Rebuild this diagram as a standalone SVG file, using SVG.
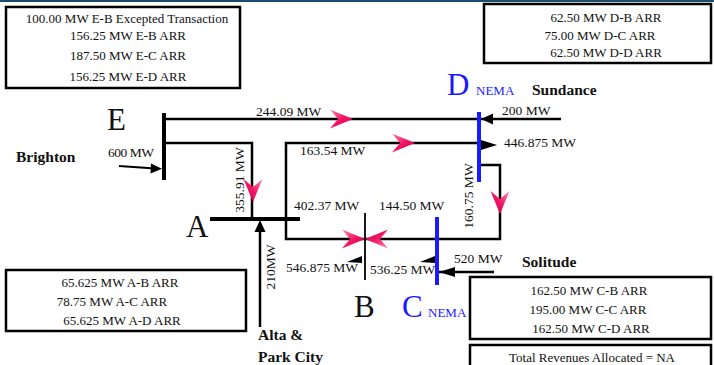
<svg xmlns="http://www.w3.org/2000/svg" width="714" height="365" viewBox="0 0 714 365">
<style>
.t{font-family:"Liberation Serif","Times New Roman",serif;font-size:13.5px;fill:#111}
.bx{font-family:"Liberation Serif","Times New Roman",serif;font-size:13px;fill:#111;text-anchor:middle}
.big{font-family:"Liberation Serif","Times New Roman",serif;font-size:31px;fill:#111}
.bl{fill:#1a1aff}
.nema{font-family:"Liberation Serif","Times New Roman",serif;font-size:13px;fill:#1a1aff}
.bold{font-family:"Liberation Serif","Times New Roman",serif;font-size:15.5px;font-weight:bold;fill:#111}
.box{fill:#fff;stroke:#000;stroke-width:2.5}
.ln{fill:none;stroke:#000;stroke-width:2.5}
.bus{stroke:#000;stroke-width:4}
.bbus{stroke:#1a1aff;stroke-width:4}
</style>
<defs>
<linearGradient id="pg" x1="0" y1="0" x2="1" y2="1">
<stop offset="0" stop-color="#ff8ab4"/>
<stop offset="0.5" stop-color="#f21666"/>
<stop offset="1" stop-color="#c80046"/>
</linearGradient>
<path id="pa" d="M0,0 L-23,-9.5 L-15,0 L-23,9.5 Z" fill="url(#pg)"/>
</defs>
<rect x="0" y="0" width="714" height="2" fill="#1f4a68"/>

<g id="box-E">
<rect class="box" x="6" y="7" width="234" height="81"/>
<text class="bx" x="127" y="23">100.00 MW E-B Excepted Transaction</text>
<text class="bx" x="128" y="40">156.25 MW E-B ARR</text>
<text class="bx" x="128" y="60">187.50 MW E-C ARR</text>
<text class="bx" x="128" y="81">156.25 MW E-D ARR</text>
</g>
<g id="box-D">
<rect class="box" x="484" y="4" width="227" height="59"/>
<text class="bx" x="606" y="22">62.50 MW D-B ARR</text>
<text class="bx" x="600" y="40">75.00 MW D-C ARR</text>
<text class="bx" x="606" y="57">62.50 MW D-D ARR</text>
</g>
<g id="box-A">
<rect class="box" x="6" y="270" width="240" height="61"/>
<text class="bx" x="120" y="287">65.625 MW A-B ARR</text>
<text class="bx" x="112" y="306">78.75 MW A-C ARR</text>
<text class="bx" x="122" y="325">65.625 MW A-D ARR</text>
</g>
<g id="box-C">
<rect class="box" x="470" y="277" width="241" height="62"/>
<text class="bx" x="589" y="295">162.50 MW C-B ARR</text>
<text class="bx" x="588" y="314">195.00 MW C-C ARR</text>
<text class="bx" x="591" y="333">162.50 MW C-D ARR</text>
</g>
<g id="box-total">
<rect class="box" x="470" y="345" width="241" height="30"/>
<text class="bx" x="592" y="362">Total Revenues Allocated = NA</text>
</g>

<g id="connectors">
<path class="ln" d="M164,119 H561"/>
<path class="ln" d="M164,143 H252 V219"/>
<path class="ln" d="M286,219 V143 H479"/>
<path class="ln" d="M286,219 V239 H500 V165 H479"/>
<path class="ln" d="M437,272 H494"/>
<path class="ln" d="M260,327 V225"/>
<path d="M119,166 L155,168.5" stroke="#000" stroke-width="2.2"/>
<use href="#pa" transform="translate(353,119)"/>
<use href="#pa" transform="translate(415,143)"/>
<use href="#pa" transform="translate(253,202) rotate(90)"/>
<use href="#pa" transform="translate(500,214) rotate(90)"/>
<use href="#pa" transform="translate(365,239)"/>
<use href="#pa" transform="translate(365,239) rotate(180)"/>
<path d="M481,119 L493,113.5 L493,124.5 Z" fill="#000"/>
<path d="M497,145 L481,140 L481,150 Z" fill="#000"/>
<path d="M439,272 L455,267 L455,277 Z" fill="#000"/>
<path d="M162,168.7 L151,163.5 L150.5,173.5 Z" fill="#000"/>
<path d="M260,220 L254.5,232 L265.5,232 Z" fill="#000"/>
<path d="M347,262 L362,256 L362,263 Z" fill="#000"/>
<path d="M420,262 L435,256 L435,263 Z" fill="#000"/>
<text class="t" x="256" y="116">244.09  MW</text>
<text class="t" x="300" y="155">163.54 MW</text>
<text class="t" x="108" y="157" letter-spacing="-0.5">600 MW</text>
<text class="t" transform="translate(244,180) rotate(-90)" text-anchor="middle">355.91 MW</text>
<text class="t" transform="translate(275,267) rotate(-90)" text-anchor="middle">210MW</text>
<text class="t" transform="translate(473,196) rotate(-90)" text-anchor="middle">160.75 MW</text>
<text class="t" x="294" y="210">402.37 MW</text>
<text class="t" x="379" y="210">144.50 MW</text>
<text class="t" x="286" y="272">546.875 MW</text>
<text class="t" x="370" y="274">536.25 MW</text>
<text class="t" x="454" y="263">520 MW</text>
<text class="t" x="502" y="115">200 MW</text>
<text class="t" x="504" y="147">446.875 MW</text>
</g>

<g id="node-E">
<line class="bus" x1="164" y1="113" x2="164" y2="180"/>
<text class="big" x="107" y="130">E</text>
<text class="bold" x="16" y="162">Brighton</text>
</g>
<g id="node-A">
<line class="bus" x1="210" y1="219" x2="300" y2="219"/>
<text class="big" x="186" y="237">A</text>
<text class="bold" x="258" y="340">Alta &amp;</text>
<text class="bold" x="258" y="362">Park City</text>
</g>
<g id="node-B">
<line x1="365" y1="213" x2="365" y2="280" stroke="#000" stroke-width="1.8"/>
<text class="big" x="354" y="317">B</text>
</g>
<g id="node-C">
<line class="bbus" x1="437" y1="217" x2="437" y2="285"/>
<text class="big bl" x="402" y="317">C</text>
<text class="nema" x="428" y="317">NEMA</text>
<text class="bold" x="522" y="267">Solitude</text>
</g>
<g id="node-D">
<line class="bbus" x1="479" y1="112" x2="479" y2="182"/>
<text class="big bl" x="447" y="95">D</text>
<text class="nema" x="476" y="95">NEMA</text>
<text class="bold" x="532" y="95">Sundance</text>
</g>
</svg>
